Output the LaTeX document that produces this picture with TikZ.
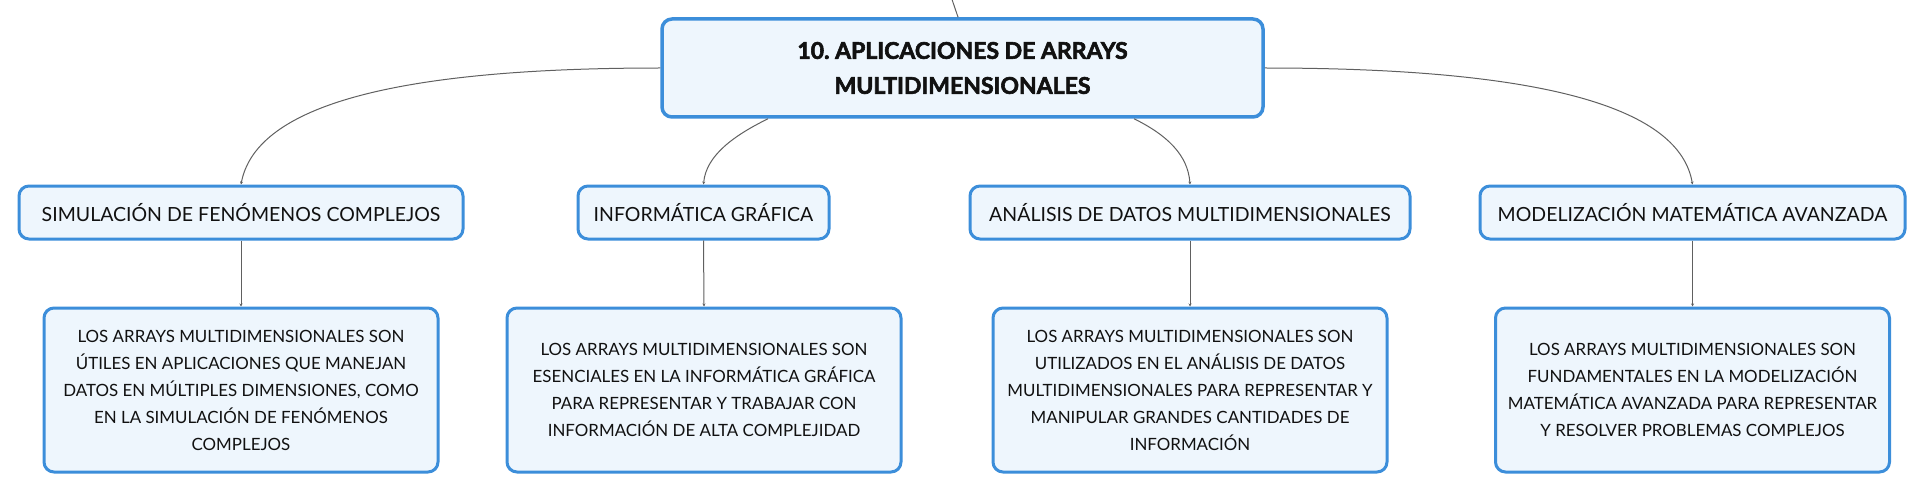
\documentclass[tikz,border=0pt]{standalone}
\usepackage{fontspec}
\setmainfont{Lato}[BoldFeatures={FakeBold=2.5}]
\frenchspacing
\usetikzlibrary{arrows.meta}
\definecolor{bordercol}{HTML}{3C8EDA}
\definecolor{fillcol}{HTML}{EEF6FD}
\definecolor{linecol}{HTML}{606060}
\definecolor{textcol}{HTML}{111111}
\begin{document}
\begin{tikzpicture}[x=1pt,y=-1pt,
  box/.style={draw=bordercol, fill=fillcol, line width=3pt, rounded corners=10pt,
    inner sep=0pt, align=center, text=textcol},
  rootbox/.style={box, line width=3.5pt, font=\fontsize{23}{35}\selectfont\bfseries},
  lvlone/.style={box, minimum height=53pt, font=\fontsize{19.5}{24}\selectfont},
  lvltwo/.style={box, minimum width=394pt, minimum height=164pt, font=\fontsize{16.9}{27}\selectfont},
  conn/.style={draw=linecol, line width=1pt},
  tip/.style={conn, -{Stealth[length=3pt,width=3pt]}}
]
\useasboundingbox (0,0) rectangle (1925,492);

\node[rootbox, minimum width=601pt, minimum height=98pt] (root) at (962.5,68)
  {10. APLICACIONES DE ARRAYS\\MULTIDIMENSIONALES};

\node[lvlone, minimum width=444pt] (sim) at (241,212.5) {SIMULACIÓN DE FENÓMENOS COMPLEJOS};
\node[lvlone, minimum width=251pt] (inf) at (703.5,212.5) {INFORMÁTICA GRÁFICA};
\node[lvlone, minimum width=440pt] (ana) at (1190,212.5) {ANÁLISIS DE DATOS MULTIDIMENSIONALES};
\node[lvlone, minimum width=425pt] (mod) at (1692.5,212.5) {MODELIZACIÓN MATEMÁTICA AVANZADA};

\node[lvltwo] (b1) at (241,390) {LOS ARRAYS MULTIDIMENSIONALES SON\\ÚTILES EN APLICACIONES QUE MANEJAN\\DATOS EN MÚLTIPLES DIMENSIONES, COMO\\EN LA SIMULACIÓN DE FENÓMENOS\\COMPLEJOS};
\node[lvltwo] (b2) at (704,390) {LOS ARRAYS MULTIDIMENSIONALES SON\\ESENCIALES EN LA INFORMÁTICA GRÁFICA\\PARA REPRESENTAR Y TRABAJAR CON\\INFORMACIÓN DE ALTA COMPLEJIDAD};
\node[lvltwo] (b3) at (1190,390) {LOS ARRAYS MULTIDIMENSIONALES SON\\UTILIZADOS EN EL ANÁLISIS DE DATOS\\MULTIDIMENSIONALES PARA REPRESENTAR Y\\MANIPULAR GRANDES CANTIDADES DE\\INFORMACIÓN};
\node[lvltwo] (b4) at (1692.5,390) {LOS ARRAYS MULTIDIMENSIONALES SON\\FUNDAMENTALES EN LA MODELIZACIÓN\\MATEMÁTICA AVANZADA PARA REPRESENTAR\\Y RESOLVER PROBLEMAS COMPLEJOS};

\coordinate (top) at (951.5,-2);
\draw[conn] (top) -- (root.95);

\draw[tip] (root.west) .. controls (380,68) and (255,110) .. (sim.north);
\draw[tip] (root.east) .. controls (1552,68) and (1680,110) .. (mod.north);
\draw[tip] (root.south west -| 768,0) .. controls (735,135) and (706,155) .. (inf.north);
\draw[tip] (root.south west -| 1134,0) .. controls (1167,135) and (1188,155) .. (ana.north);

\draw[tip] (sim.south) -- (b1.north);
\draw[tip] (inf.south) -- (b2.north);
\draw[tip] (ana.south) -- (b3.north);
\draw[tip] (mod.south) -- (b4.north);
\end{tikzpicture}
\end{document}
